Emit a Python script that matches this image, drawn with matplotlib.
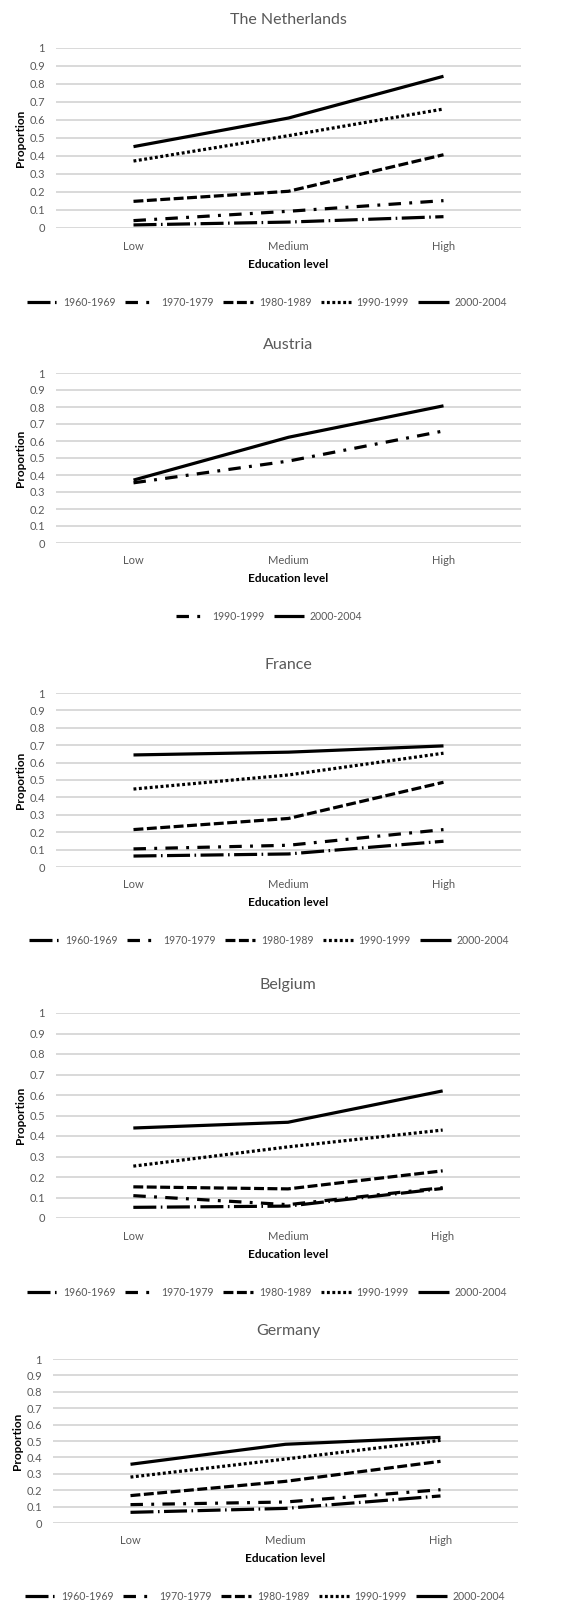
import matplotlib.pyplot as plt

plt.rcParams['font.family'] = ['Lato', 'DejaVu Sans']

levels = ['Low', 'Medium', 'High']
cohorts = ['1960-1969', '1970-1979', '1980-1989', '1990-1999', '2000-2004']
yticks = [0, 0.1, 0.2, 0.3, 0.4, 0.5, 0.6, 0.7, 0.8, 0.9, 1]
yticklabels = ['0', '0.1', '0.2', '0.3', '0.4', '0.5', '0.6', '0.7', '0.8', '0.9', '1']

# proportions per cohort (rows) and education level (columns)
netherlands = [[0.017, 0.033, 0.063],
               [0.041, 0.093, 0.152],
               [0.148, 0.204, 0.407],
               [0.372, 0.513, 0.661],
               [0.452, 0.611, 0.843]]
austria = [[0.354, 0.482, 0.659],
           [0.370, 0.622, 0.807]]
austria_cohorts = ['1990-1999', '2000-2004']
france = [[0.063, 0.075, 0.148],
          [0.104, 0.125, 0.215],
          [0.215, 0.279, 0.487],
          [0.448, 0.529, 0.654],
          [0.644, 0.660, 0.696]]
belgium = [[0.052, 0.058, 0.144],
           [0.109, 0.065, 0.148],
           [0.152, 0.142, 0.230],
           [0.253, 0.347, 0.429],
           [0.439, 0.467, 0.620]]
germany = [[0.065, 0.089, 0.165],
           [0.112, 0.128, 0.203],
           [0.167, 0.254, 0.376],
           [0.280, 0.390, 0.504],
           [0.358, 0.480, 0.522]]

# dash patterns (in line-width units)
longdashdot = (7.2, 1.4, 0.5, 1.4)
dashdot = (3.9, 2.6, 0.9, 2.6)
dash = (3.1, 1.1)
dot = (0.9, 0.8)
solid = None
styles5 = [longdashdot, dashdot, dash, dot, solid]

W, H = 573, 1609
fig = plt.figure(figsize=(W / 100, H / 100), dpi=100)

def fx(px):
    return px / W

def fy(py):
    return 1 - py / H

# (name, data, labels, styles, left, right, top, bottom, title_y, xlabel_y, legend_y, legend_x)
panels = [
    ('The Netherlands', netherlands, cohorts, styles5, 56, 521, 48, 228, 20, 265, 302, 267),
    ('Austria', austria, austria_cohorts, [dashdot, solid], 56, 521, 373, 543, 345, 579, 616, 269),
    ('France', france, cohorts, styles5, 56, 521, 693, 867, 665, 903, 940, 269),
    ('Belgium', belgium, cohorts, styles5, 56, 520, 1013, 1218, 985, 1254, 1292, 267),
    ('Germany', germany, cohorts, styles5, 53, 518, 1359, 1523, 1331, 1559, 1596, 265),
]

grey = '#595959'
for name, data, labels, styles, l, r, t, b, ty, xly, ly, lx in panels:
    ax = fig.add_axes([fx(l), fy(b), fx(r - l), (b - t) / H])
    x = [0.5, 1.5, 2.5]
    for vals, lab, st in zip(data, labels, styles):
        line, = ax.plot(x, vals, color='black', lw=2.3, label=lab,
                        solid_capstyle='butt', dash_capstyle='butt')
        if st is not None:
            line.set_dashes(st)
    ax.set_xlim(0, 3)
    ax.set_ylim(0, 1)
    ax.set_xticks(x)
    ax.set_xticklabels(levels, color=grey, fontsize=8)
    ax.set_yticks(yticks)
    ax.set_yticklabels(yticklabels, color=grey, fontsize=8)
    ax.tick_params(length=0, pad=8)
    ax.tick_params(axis='x', pad=9)
    ax.grid(axis='y', color='#d9d9d9', lw=1.4)
    ax.set_axisbelow(True)
    for s in ax.spines.values():
        s.set_visible(False)
    ax.set_ylabel('Proportion', fontsize=8.5, fontweight='bold', labelpad=2)
    fig.text(fx((l + r) / 2), fy(xly), 'Education level', ha='center', va='center',
             fontsize=8.5, fontweight='bold')
    fig.text(fx(288), fy(ty), name, ha='center', va='center', fontsize=11.5, color=grey)
    fig.legend(handles=ax.get_lines(), loc='center', bbox_to_anchor=(fx(lx), fy(ly)),
               ncol=len(labels), frameon=False, fontsize=7.6, labelcolor=grey,
               handlelength=2.9, handletextpad=0.5, columnspacing=0.9,
               borderaxespad=0, borderpad=0)

fig.savefig('out.png', dpi=100, facecolor='white')
